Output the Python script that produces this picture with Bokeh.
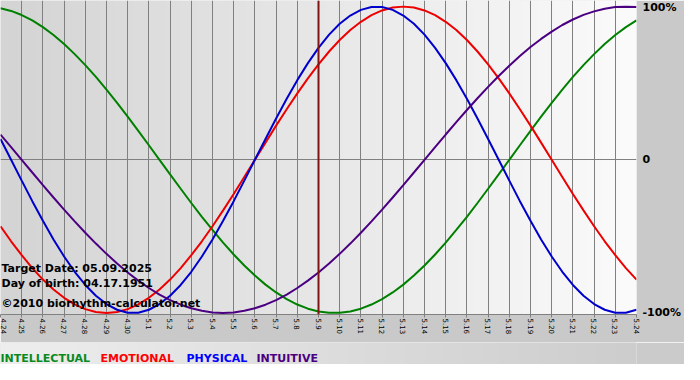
import numpy as np
from bokeh.plotting import figure
from bokeh.layouts import column
from bokeh.models import Range1d, FixedTicker, Span, Label, ColumnDataSource
from bokeh.core.properties import value
from bokeh.embed import file_html
from bokeh.resources import INLINE

# ---------------- data ----------------
DAY_LABELS = ["4.24", "4.25", "4.26", "4.27", "4.28", "4.29", "4.30",
              "5.1", "5.2", "5.3", "5.4", "5.5", "5.6", "5.7", "5.8", "5.9",
              "5.10", "5.11", "5.12", "5.13", "5.14", "5.15", "5.16", "5.17",
              "5.18", "5.19", "5.20", "5.21", "5.22", "5.23", "5.24"]
DAYS = list(range(len(DAY_LABELS)))
# readings every half day, from 4.24 to 5.24
SAMPLES = [d / 2 for d in range(2 * (len(DAY_LABELS) - 1) + 1)]

INTELLECTUAL = [0.990, 0.972, 0.945, 0.910, 0.866, 0.815, 0.756, 0.690, 0.618,
                0.541, 0.458, 0.372, 0.282, 0.189, 0.095, 0.000, -0.095, -0.189,
                -0.282, -0.372, -0.458, -0.541, -0.618, -0.690, -0.756, -0.815,
                -0.866, -0.910, -0.945, -0.972, -0.990, -0.999, -0.999, -0.990,
                -0.972, -0.945, -0.910, -0.866, -0.815, -0.756, -0.690, -0.618,
                -0.541, -0.458, -0.372, -0.282, -0.189, -0.095, 0.000, 0.095,
                0.189, 0.282, 0.372, 0.458, 0.541, 0.618, 0.690, 0.756, 0.815,
                0.866, 0.910]
EMOTIONAL = [-0.434, -0.532, -0.623, -0.707, -0.782, -0.847, -0.901, -0.944,
             -0.975, -0.994, -1.000, -0.994, -0.975, -0.944, -0.901, -0.847,
             -0.782, -0.707, -0.623, -0.532, -0.434, -0.330, -0.223, -0.112,
             0.000, 0.112, 0.223, 0.330, 0.434, 0.532, 0.623, 0.707, 0.782,
             0.847, 0.901, 0.944, 0.975, 0.994, 1.000, 0.994, 0.975, 0.944,
             0.901, 0.847, 0.782, 0.707, 0.623, 0.532, 0.434, 0.330, 0.223,
             0.112, 0.000, -0.112, -0.223, -0.330, -0.434, -0.532, -0.623,
             -0.707, -0.782]
PHYSICAL = [0.136, 0.000, -0.136, -0.270, -0.398, -0.520, -0.631, -0.731,
            -0.817, -0.888, -0.942, -0.979, -0.998, -0.998, -0.979, -0.942,
            -0.888, -0.817, -0.731, -0.631, -0.520, -0.398, -0.270, -0.136,
            0.000, 0.136, 0.270, 0.398, 0.520, 0.631, 0.731, 0.817, 0.888,
            0.942, 0.979, 0.998, 0.998, 0.979, 0.942, 0.888, 0.817, 0.731,
            0.631, 0.520, 0.398, 0.270, 0.136, 0.000, -0.136, -0.270, -0.398,
            -0.520, -0.631, -0.731, -0.817, -0.888, -0.942, -0.979, -0.998,
            -0.998, -0.979]
INTUITIVE = [0.165, 0.083, 0.000, -0.083, -0.165, -0.246, -0.325, -0.402,
             -0.476, -0.547, -0.614, -0.677, -0.736, -0.789, -0.837, -0.880,
             -0.916, -0.946, -0.969, -0.986, -0.997, -1.000, -0.997, -0.986,
             -0.969, -0.946, -0.916, -0.880, -0.837, -0.789, -0.736, -0.677,
             -0.614, -0.547, -0.476, -0.402, -0.325, -0.246, -0.165, -0.083,
             0.000, 0.083, 0.165, 0.246, 0.325, 0.402, 0.476, 0.547, 0.614,
             0.677, 0.736, 0.789, 0.837, 0.880, 0.916, 0.946, 0.969, 0.986,
             0.997, 1.000, 0.997]

Y_TICKS = [-1, 0, 1]
Y_LABELS = ["-100%", "0", "100%"]
TARGET_DAY = "5.9"
INFO_LINES = ["Target Date: 05.09.2025", "Day of birth: 04.17.1951",
              "\u00a92010 biorhythm-calculator.net"]
SERIES_NAMES = ["INTELLECTUAL", "EMOTIONAL", "PHYSICAL", "INTUITIVE"]

# ---------------- styles ----------------
COLORS = {"INTELLECTUAL": "#008000", "EMOTIONAL": "#ee0000",
          "PHYSICAL": "#0000cc", "INTUITIVE": "#4b0082"}
TEXT_COLORS = {"INTELLECTUAL": "#0a8a1e", "EMOTIONAL": "#ff0000",
               "PHYSICAL": "#0000ff", "INTUITIVE": "#4b0082"}
FONT = "DejaVu Sans"
Y0, Y1 = -1.01, 1.04
W = 684
MAIN_H = 342
LEG_H = 22
LEGEND_DX = [0, 100, 186, 256]


def gradient(g0, g1, n=256):
    g = np.linspace(g0, g1, n).astype(np.uint32)
    return ((np.uint32(255) << 24) | (g << 16) | (g << 8) | g).reshape(1, n).astype(np.uint32)


p = figure(width=W, height=MAIN_H, x_range=Range1d(0, len(DAYS) - 1),
           y_range=Range1d(Y0, Y1), y_axis_location="right",
           output_backend="svg", toolbar_location=None,
           min_border_left=0, min_border_top=0, min_border_right=46,
           min_border_bottom=28, background_fill_color="#e6e6e6",
           border_fill_color="#c9c9c9", outline_line_color=None)

# horizontal gradient background of the plot area
p.image_rgba(image=[gradient(212, 251)], x=0, y=Y0, dw=len(DAYS) - 1,
             dh=Y1 - Y0, level="image")

# grid
p.xgrid.ticker = FixedTicker(ticks=DAYS)
p.xgrid.grid_line_color = "#808080"
p.ygrid.ticker = FixedTicker(ticks=[0])
p.ygrid.grid_line_color = "#808080"

# x axis
xa = p.xaxis[0]
xa.ticker = FixedTicker(ticks=DAYS)
xa.major_label_overrides = {d: lab for d, lab in zip(DAYS, DAY_LABELS)}
xa.major_label_orientation = -np.pi / 2
xa.major_label_text_font = FONT
xa.major_label_text_font_size = "7px"
xa.major_label_text_color = "#000000"
xa.axis_line_color = "#808080"
xa.major_tick_line_color = "#808080"
xa.major_tick_out = 3
xa.major_tick_in = 0
xa.minor_tick_line_color = None
xa.minor_tick_out = 0
xa.major_label_standoff = 1

# right y axis
ya = p.yaxis[0]
ya.ticker = FixedTicker(ticks=Y_TICKS)
ya.major_label_overrides = {t: lab for t, lab in zip(Y_TICKS, Y_LABELS)}
ya.major_label_text_font = FONT
ya.major_label_text_font_style = "bold"
ya.major_label_text_font_size = "11px"
ya.major_label_text_color = "#000000"
ya.axis_line_color = None
ya.major_tick_line_color = None
ya.minor_tick_line_color = None
ya.major_tick_out = 0
ya.major_tick_in = 0
ya.minor_tick_out = 0
ya.minor_tick_in = 0
ya.major_label_standoff = 6

# curves
for name, vals in zip(SERIES_NAMES, [INTELLECTUAL, EMOTIONAL, PHYSICAL, INTUITIVE]):
    p.line(SAMPLES, vals, line_color=COLORS[name], line_width=2)

# target date line
p.add_layout(Span(location=DAY_LABELS.index(TARGET_DAY), dimension="height",
                  line_color="#7f1515", line_width=2))

# info texts inside the plot
for txt, off in zip(INFO_LINES, [46, 31, 11]):
    p.add_layout(Label(x=0, y=Y0, x_offset=1, y_offset=off, text=txt,
                       text_font=FONT, text_font_style="bold",
                       text_font_size="11px", text_color="#000000",
                       text_baseline="alphabetic"))

# legend row below the plot (its frame is aligned with the main frame)
leg = figure(width=W, height=LEG_H, x_range=Range1d(0, len(DAYS) - 1),
             y_range=Range1d(0, LEG_H),
             output_backend="svg", toolbar_location=None,
             min_border=0, outline_line_color=None,
             background_fill_color="#d6d6d6", border_fill_color="#cbcbcb")
leg.axis.visible = False
leg.grid.visible = False
leg.image_rgba(image=[gradient(238, 205)], x=0, y=0, dw=len(DAYS) - 1, dh=LEG_H,
               level="image")
src = ColumnDataSource(dict(x=[0] * len(SERIES_NAMES), y=[6] * len(SERIES_NAMES),
                            dx=LEGEND_DX, text=SERIES_NAMES,
                            color=[TEXT_COLORS[n] for n in SERIES_NAMES]))
leg.text(x="x", y="y", x_offset="dx", text="text", text_color="color", source=src,
         text_font=value(FONT), text_font_style="bold", text_font_size="11px",
         text_baseline="alphabetic")

layout = column(p, leg, spacing=0)
open("out.html", "w").write(file_html(layout, INLINE))
